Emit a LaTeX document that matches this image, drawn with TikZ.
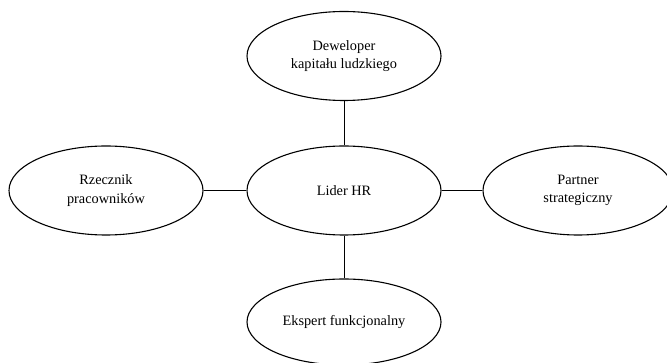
\documentclass[tikz,border=0pt]{standalone}
\usepackage{fontspec}
\setmainfont{Liberation Serif}
\usetikzlibrary{shapes.geometric}
\begin{document}
\begin{tikzpicture}[x=1pt,y=-1pt,
  role/.style={draw, ellipse, line width=1.1pt, inner sep=0pt,
    minimum width=194pt, minimum height=89pt, align=center,
    font=\fontsize{14.3}{18.5}\selectfont},
  link/.style={line width=1pt}]
  \useasboundingbox (0,0) rectangle (667,363);
  \begin{scope}
    \clip (0,0) rectangle (667,363);
    \node[role] (top) at (344,56) {Deweloper\\kapitału ludzkiego};
    \node[role] (left) at (106,190.5) {Rzecznik\\pracowników};
    \node[role] (mid) at (344,190.5) {Lider HR};
    \node[role, minimum width=190pt] (right) at (578,190.5) {Partner\\strategiczny};
    \node[role, minimum height=86pt] (bottom) at (344,322) {Ekspert funkcjonalny};
    \draw[link] (top) -- (mid);
    \draw[link] (left) -- (mid);
    \draw[link] (mid) -- (right);
    \draw[link] (mid) -- (bottom);
  \end{scope}
\end{tikzpicture}
\end{document}
